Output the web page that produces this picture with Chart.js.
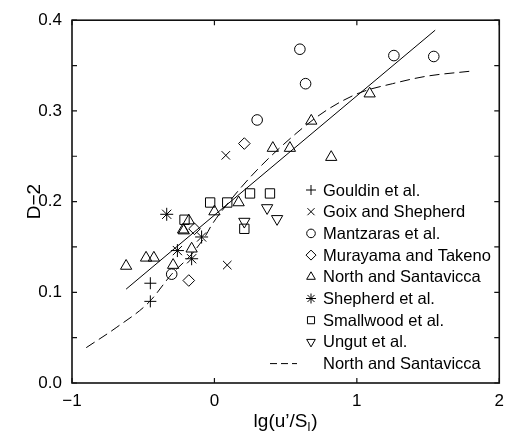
<!DOCTYPE html>
<html>
<head>
<meta charset="utf-8">
<script src="https://cdn.jsdelivr.net/npm/chart.js@4.4.1/dist/chart.umd.min.js"></script>
<style>
  html, body { margin: 0; padding: 0; background: #fff; }
  #wrap { width: 512px; height: 434px; }
</style>
</head>
<body>
<div id="wrap"><canvas id="c" width="512" height="434"></canvas></div>
<script>
// ---- data ----
const gouldinX = [-0.45, -0.45];
const gouldinY = [0.110, 0.090];
const goixX = [0.08, 0.09];
const goixY = [0.251, 0.130];
const mantzarasX = [-0.30, 0.30, 0.60, 0.64, 1.26, 1.54];
const mantzarasY = [0.120, 0.290, 0.368, 0.330, 0.361, 0.360];
const murayamaX = [-0.18, -0.14, 0.21];
const murayamaY = [0.113, 0.170, 0.264];
const northX = [-0.62, -0.48, -0.425, -0.29, -0.22, -0.215, -0.18, -0.16, 0.0, 0.17, 0.41, 0.53, 0.68, 0.82, 1.09];
const northY = [0.129, 0.138, 0.138, 0.130, 0.169, 0.168, 0.179, 0.148, 0.189, 0.199, 0.259, 0.259, 0.289, 0.249, 0.319];
const shepherdX = [-0.335, -0.26, -0.16, -0.09];
const shepherdY = [0.186, 0.146, 0.137, 0.161];
const smallwoodX = [-0.21, -0.03, 0.09, 0.21, 0.25, 0.39];
const smallwoodY = [0.180, 0.199, 0.199, 0.170, 0.209, 0.209];
const ungutX = [0.21, 0.37, 0.44];
const ungutY = [0.178, 0.193, 0.181];
const fitX = [-0.62, 1.55];
const fitY = [0.1035, 0.389];
const curveX = [-0.90, -0.69, -0.46, -0.30, -0.16, -0.06, -0.02, 0.12, 0.30, 0.58, 0.79, 1.02, 1.25, 1.48, 1.81];
const curveY = [0.039, 0.061, 0.089, 0.120, 0.142, 0.163, 0.174, 0.203, 0.235, 0.276, 0.301, 0.320, 0.330, 0.338, 0.344];

const legendLabels = ['Gouldin et al.', 'Goix and Shepherd', 'Mantzaras et al.', 'Murayama and Takeno',
  'North and Santavicca', 'Shepherd et al.', 'Smallwood et al.', 'Ungut et al.', 'North and Santavicca'];
const xTickValues = [-1, 0, 1, 2];
const yTickValues = [0, 0.1, 0.2, 0.3, 0.4];
const yMinorTicks = [0.05, 0.15, 0.25, 0.35];
const xTitle = ['lg(u\u2019/S', 'l', ')'];
const yTitle = 'D\u22122';

const pts = (xs, ys) => xs.map((x, i) => ({ x: x, y: ys[i] }));

function scatterSet(label, xs, ys, style, r, rot) {
  return {
    type: 'scatter', label: label, data: pts(xs, ys),
    pointStyle: style, pointRadius: r, pointHoverRadius: r, rotation: rot || 0,
    borderColor: '#000', backgroundColor: 'rgba(0,0,0,0)', pointBorderWidth: 1, borderWidth: 1
  };
}

const datasets = [
  scatterSet(legendLabels[0], gouldinX, gouldinY, 'cross', 6),
  scatterSet(legendLabels[1], goixX, goixY, 'crossRot', 6),
  scatterSet(legendLabels[2], mantzarasX, mantzarasY, 'circle', 5.3),
  scatterSet(legendLabels[3], murayamaX, murayamaY, 'rectRot', 5.8),
  scatterSet(legendLabels[4], northX, northY, 'triangle', 6.5),
  scatterSet(legendLabels[5], shepherdX, shepherdY, 'star', 6.5),
  scatterSet(legendLabels[6], smallwoodX, smallwoodY, 'rect', 6.6),
  scatterSet(legendLabels[7], ungutX, ungutY, 'triangle', 6.5, 180),
  {
    type: 'line', label: 'fit', data: pts(fitX, fitY), showLine: true,
    borderColor: '#000', borderWidth: 1, pointRadius: 0, fill: false
  },
  {
    type: 'line', label: legendLabels[8], data: pts(curveX, curveY), showLine: true,
    borderColor: '#000', borderWidth: 1, borderDash: [10, 5], pointRadius: 0, fill: false,
    cubicInterpolationMode: 'monotone'
  }
];

const FONT = '"Liberation Sans", Arial, Helvetica, sans-serif';

const framePlugin = {
  id: 'frame',
  afterDraw(chart) {
    const ctx = chart.ctx;
    const a = chart.chartArea;
    const xs = chart.scales.x, ys = chart.scales.y;
    ctx.save();
    ctx.strokeStyle = '#111';
    ctx.lineWidth = 1.6;
    ctx.strokeRect(a.left, a.top, a.right - a.left, a.bottom - a.top);
    ctx.lineWidth = 1.2;
    ctx.beginPath();
    xTickValues.forEach(v => {
      const px = xs.getPixelForValue(v);
      ctx.moveTo(px, a.bottom); ctx.lineTo(px, a.bottom - 5);
      ctx.moveTo(px, a.top); ctx.lineTo(px, a.top + 5);
    });
    yTickValues.concat(yMinorTicks).forEach(v => {
      const py = ys.getPixelForValue(v);
      ctx.moveTo(a.left, py); ctx.lineTo(a.left + 5, py);
      ctx.moveTo(a.right, py); ctx.lineTo(a.right - 5, py);
    });
    ctx.stroke();

    // axis titles
    ctx.fillStyle = '#000';
    ctx.font = '19px ' + FONT;
    ctx.textBaseline = 'alphabetic';
    const w1 = ctx.measureText(xTitle[0]).width;
    ctx.font = '13px ' + FONT;
    const w2 = ctx.measureText(xTitle[1]).width;
    ctx.font = '19px ' + FONT;
    const w3 = ctx.measureText(xTitle[2]).width;
    const cx = (a.left + a.right) / 2;
    let sx = cx - (w1 + w2 + 1 + w3) / 2;
    const by = 427;
    ctx.textAlign = 'left';
    ctx.fillText(xTitle[0], sx, by);
    ctx.font = '13px ' + FONT;
    ctx.fillText(xTitle[1], sx + w1, by + 4);
    ctx.font = '19px ' + FONT;
    ctx.fillText(xTitle[2], sx + w1 + w2 + 1, by);

    ctx.save();
    ctx.translate(35, (a.top + a.bottom) / 2);
    ctx.rotate(-Math.PI / 2);
    ctx.textAlign = 'center';
    ctx.textBaseline = 'middle';
    ctx.fillText(yTitle, 0, 0);
    ctx.restore();

    // legend
    const rowY0 = 190, rowH = 21.7, markX = 311, textX = 323;
    ctx.font = '16.5px ' + FONT;
    ctx.textAlign = 'left';
    ctx.textBaseline = 'middle';
    const legendSets = [0, 1, 2, 3, 4, 5, 6, 7];
    legendSets.forEach((di, i) => {
      const ds = chart.data.datasets[di];
      const y = rowY0 + i * rowH;
      ctx.lineWidth = 1;
      ctx.strokeStyle = '#000';
      ctx.fillStyle = 'rgba(0,0,0,0)';
      Chart.helpers.drawPoint(ctx, {
        pointStyle: ds.pointStyle, radius: ds.pointStyle === 'circle' ? 4.3 : 5,
        rotation: ds.rotation || 0, borderWidth: 1
      }, markX, y);
      ctx.fillStyle = '#000';
      ctx.fillText(ds.label, textX, y + 1);
    });
    const yd = rowY0 + 8 * rowH;
    ctx.beginPath();
    ctx.setLineDash([7, 4]);
    ctx.lineWidth = 1;
    ctx.moveTo(270, yd); ctx.lineTo(297, yd);
    ctx.stroke();
    ctx.setLineDash([]);
    ctx.fillStyle = '#000';
    ctx.fillText(chart.data.datasets[9].label, textX, yd + 1);
    ctx.restore();
  }
};

new Chart(document.getElementById('c'), {
  type: 'scatter',
  data: { datasets: datasets },
  options: {
    responsive: false,
    animation: false,
    devicePixelRatio: 1,
    layout: { padding: { left: 0, right: 7, top: 16, bottom: 0 } },
    plugins: { legend: { display: false }, tooltip: { enabled: false } },
    elements: { line: { tension: 0 } },
    scales: {
      x: {
        type: 'linear', min: -1, max: 2,
        afterBuildTicks: s => { s.ticks = xTickValues.map(v => ({ value: v })); },
        afterFit: s => { s.height = 51; },
        grid: { display: false, drawTicks: false },
        border: { display: false },
        ticks: {
          padding: 8, color: '#000', font: { size: 17, family: FONT },
          callback: v => String(v).replace('-', '\u2212')
        }
      },
      y: {
        type: 'linear', min: 0, max: 0.4,
        afterBuildTicks: s => { s.ticks = yTickValues.map(v => ({ value: v })); },
        afterFit: s => { s.width = 72; },
        grid: { display: false, drawTicks: false },
        border: { display: false },
        ticks: {
          padding: 10, color: '#000', font: { size: 17, family: FONT },
          callback: v => Number(v).toFixed(1)
        }
      }
    }
  },
  plugins: [framePlugin]
});
</script>
</body>
</html>
